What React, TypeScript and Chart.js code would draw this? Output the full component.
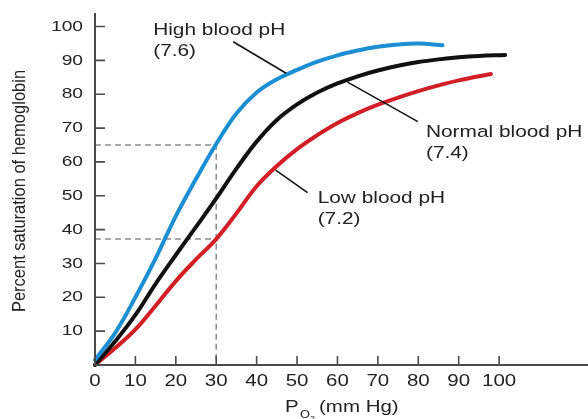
import React, { useEffect, useRef } from 'react';
import { Chart, registerables } from 'chart.js';
Chart.register(...registerables);

// ---- data ----
const highPO2 = [0, 5, 10, 15, 20, 25, 30, 35, 40, 45, 50, 55, 60, 65, 70, 75, 80, 86];
const highSat = [1.5, 9.5, 20, 31.5, 44, 55, 65.3, 74.3, 80.5, 84.4, 87.2, 89.6, 91.5, 92.9, 94, 94.7, 95, 94.5];
const normalPO2 = [0, 5, 10, 15, 20, 25, 30, 35, 40, 45, 50, 55, 60, 65, 70, 75, 80, 85, 90, 95, 101.5];
const normalSat = [0, 7, 14.8, 24, 32.5, 40.8, 49.2, 58, 66, 72.4, 77, 80.5, 83.2, 85.3, 87, 88.4, 89.5, 90.3, 90.9, 91.3, 91.6];
const lowPO2 = [0, 5, 10, 15, 20, 25, 30, 35, 40, 45, 50, 55, 60, 65, 70, 75, 80, 85, 90, 98];
const lowSat = [0, 5, 10.5, 17.5, 24.8, 31.2, 37.2, 44.8, 52.8, 58.8, 63.8, 67.9, 71.5, 74.4, 76.9, 79, 80.9, 82.6, 84.1, 86];

const xTickValues = [0, 10, 20, 30, 40, 50, 60, 70, 80, 90, 100];
const yTickValues = [10, 20, 30, 40, 50, 60, 70, 80, 90, 100];

const guidePO2 = 30;
const guideHighSat = 65;
const guideLowSat = 37.2;

const seriesLabels = [
  ['High blood pH', '(7.6)'],
  ['Normal blood pH', '(7.4)'],
  ['Low blood pH', '(7.2)'],
];
// annotation anchors in data coordinates: [textX, textY, lineFromX, lineFromY, lineToX, lineToY]
const labelAnchors = [
  [14.4, 97.6, 34.2, 95.5, 47.3, 86.2],
  [81.9, 67.5, 62.5, 83.6, 79.9, 71.9],
  [55.1, 47.9, 44.7, 57.6, 52.6, 50.9],
];

const FONT = '"Liberation Sans", Arial, Helvetica, sans-serif';
const SX = 1.28;

function stretchedText(ctx: CanvasRenderingContext2D, text: string, x: number, y: number, size: number, align: CanvasTextAlign, baseline: CanvasTextBaseline) {
  ctx.save();
  ctx.translate(x, y);
  ctx.scale(SX, 1);
  ctx.font = `${size}px ${FONT}`;
  ctx.textAlign = align;
  ctx.textBaseline = baseline;
  ctx.fillText(text, 0, 0);
  ctx.restore();
}

const decorPlugin = {
  id: 'decor',
  afterDraw(chart: any) {
    const ctx: CanvasRenderingContext2D = chart.ctx;
    const xs = chart.scales.x;
    const ys = chart.scales.y;
    const area = chart.chartArea;
    const x0 = xs.getPixelForValue(0);
    const y0 = ys.getPixelForValue(0);
    ctx.save();
    // axes
    ctx.strokeStyle = '#4a4a4a';
    ctx.lineWidth = 2;
    ctx.beginPath();
    ctx.moveTo(x0, area.top);
    ctx.lineTo(x0, y0);
    ctx.lineTo(area.right, y0);
    ctx.stroke();
    // ticks
    ctx.lineWidth = 1.6;
    ctx.beginPath();
    yTickValues.forEach((v) => {
      const py = ys.getPixelForValue(v);
      ctx.moveTo(x0, py);
      ctx.lineTo(x0 + 10, py);
    });
    xTickValues.forEach((v) => {
      if (v === 0) return;
      const px = xs.getPixelForValue(v);
      ctx.moveTo(px, y0);
      ctx.lineTo(px, y0 - 9);
    });
    ctx.stroke();
    // tick labels
    ctx.fillStyle = '#222';
    yTickValues.forEach((v) => {
      stretchedText(ctx, String(v), x0 - 12, ys.getPixelForValue(v), 15, 'right', 'middle');
    });
    xTickValues.forEach((v) => {
      stretchedText(ctx, String(v), xs.getPixelForValue(v), y0 + 21, 16, 'center', 'alphabetic');
    });
    // y title
    ctx.save();
    ctx.translate(20, (area.top + y0) / 2 + 2);
    ctx.rotate(-Math.PI / 2);
    ctx.scale(1, 1.15);
    ctx.font = `16.5px ${FONT}`;
    ctx.textAlign = 'center';
    ctx.textBaseline = 'middle';
    ctx.fillText('Percent saturation of hemoglobin', 0, 0);
    ctx.restore();
    // x title: P O2 (mm Hg)
    const tb = 412;
    stretchedText(ctx, 'P', 285, tb, 16, 'left', 'alphabetic');
    stretchedText(ctx, 'O', 300, tb + 6, 10, 'left', 'alphabetic');
    stretchedText(ctx, '2', 310, tb + 9, 7, 'left', 'alphabetic');
    stretchedText(ctx, '(mm Hg)', 319, tb, 16, 'left', 'alphabetic');
    // annotations
    labelAnchors.forEach((a, i) => {
      const tx = xs.getPixelForValue(a[0]);
      const ty = ys.getPixelForValue(a[1]);
      stretchedText(ctx, seriesLabels[i][0], tx, ty, 16.3, 'left', 'alphabetic');
      stretchedText(ctx, seriesLabels[i][1], tx, ty + 21, 16.3, 'left', 'alphabetic');
      ctx.strokeStyle = '#111';
      ctx.lineWidth = 1.5;
      ctx.beginPath();
      ctx.moveTo(xs.getPixelForValue(a[2]), ys.getPixelForValue(a[3]));
      ctx.lineTo(xs.getPixelForValue(a[4]), ys.getPixelForValue(a[5]));
      ctx.stroke();
    });
    ctx.restore();
  },
};

export default function App() {
  const ref = useRef<HTMLCanvasElement | null>(null);
  useEffect(() => {
    document.body.style.margin = '0';
    const toPts = (xs: number[], ys: number[]) => xs.map((x, i) => ({ x, y: ys[i] }));
    const curve = (label: string, data: any, color: string) => ({
      label,
      data,
      borderColor: color,
      backgroundColor: color,
      borderWidth: 4,
      pointRadius: 0,
      fill: false,
      tension: 0.4,
      borderCapStyle: 'round' as const,
      clip: false as any,
    });
    const dashed = (label: string, data: any) => ({
      label,
      data,
      borderColor: '#8a8a8a',
      borderWidth: 1.5,
      borderDash: [6, 4],
      pointRadius: 0,
      fill: false,
      tension: 0,
    });
    const chart = new Chart(ref.current as HTMLCanvasElement, {
      type: 'line',
      data: {
        datasets: [
          curve('High blood pH (7.6)', toPts(highPO2, highSat), '#1b8fd2'),
          curve('Normal blood pH (7.4)', toPts(normalPO2, normalSat), '#111111'),
          curve('Low blood pH (7.2)', toPts(lowPO2, lowSat), '#d21f27'),
          dashed('guide high', [
            { x: 0, y: guideHighSat },
            { x: guidePO2, y: guideHighSat },
            { x: guidePO2, y: 0 },
          ]),
          dashed('guide low', [
            { x: 0, y: guideLowSat },
            { x: guidePO2, y: guideLowSat },
          ]),
        ] as any,
      },
      options: {
        animation: false,
        responsive: true,
        maintainAspectRatio: false,
        layout: { padding: { top: 13, right: 0, left: 0, bottom: 0 } },
        plugins: { legend: { display: false }, tooltip: { enabled: false } },
        scales: {
          x: {
            type: 'linear',
            min: 0,
            max: 122,
            grid: { display: false },
            border: { display: false },
            ticks: { display: false, stepSize: 10, includeBounds: false },
            afterFit: (s: any) => { s.height = 54; },
          },
          y: {
            type: 'linear',
            min: 0,
            max: 104,
            grid: { display: false },
            border: { display: false },
            ticks: { display: false, stepSize: 10, includeBounds: false },
            afterFit: (s: any) => { s.width = 95; },
          },
        },
      },
      plugins: [decorPlugin],
    });
    return () => chart.destroy();
  }, []);
  return (
    <div style={{ width: 588, height: 419, position: 'relative', background: '#fff' }}>
      <canvas ref={ref} />
    </div>
  );
}
